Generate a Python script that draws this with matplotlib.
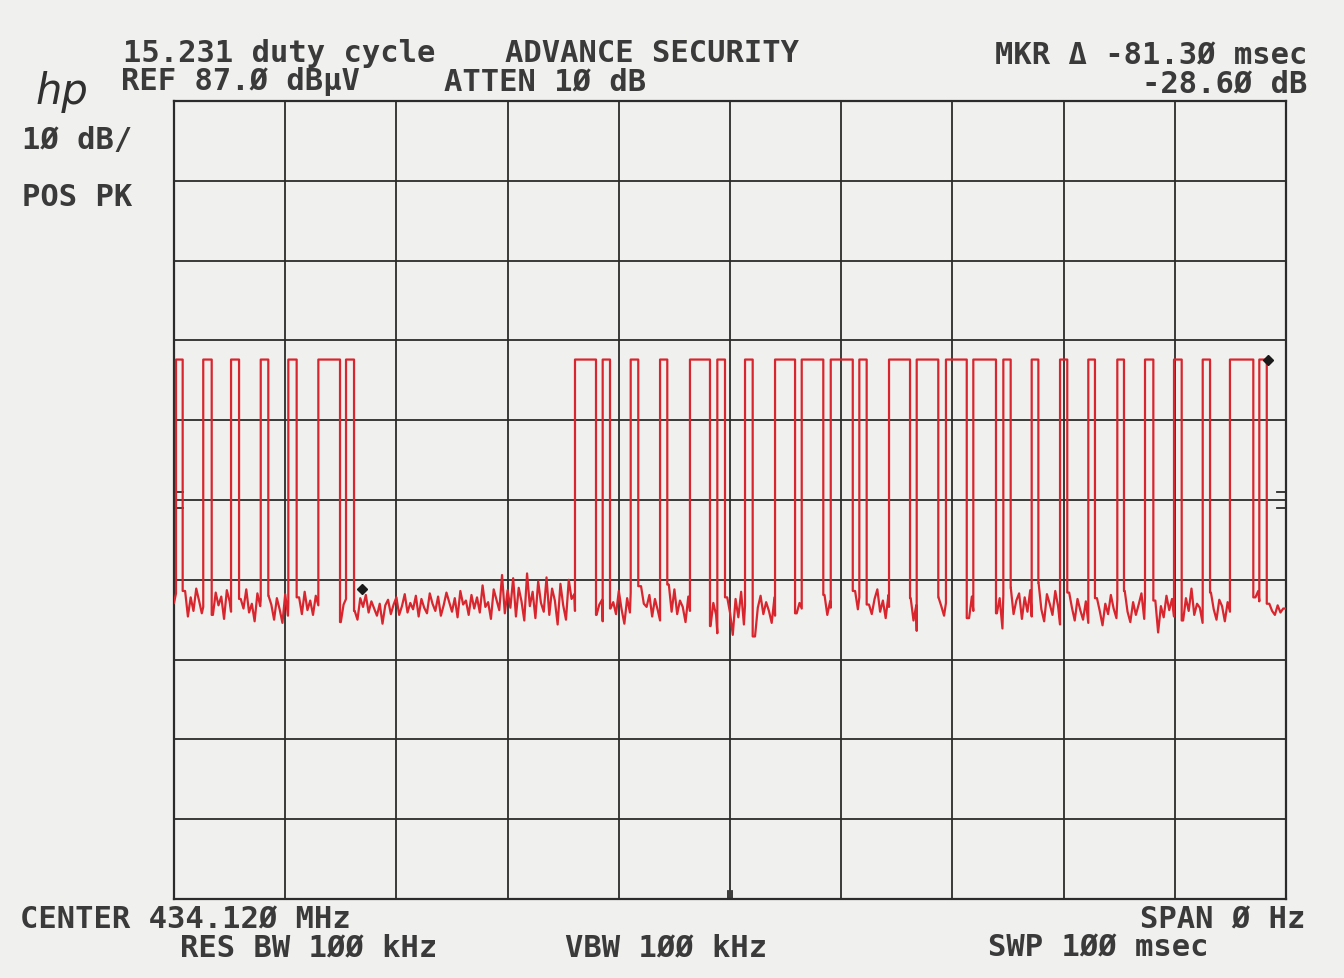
import numpy as np
import matplotlib.pyplot as plt

# --- Trace data (read from the plotter output) ---
# sweep 0..100 ms, REF 87.0 dBuV, 10 dB/div
ref_level = 87.0
high_level = 54.6          # level of the carrier when keyed on (dBuV)

# keyed-on intervals (start, end) in ms
pulses = [
    (0.18, 0.78), (2.63, 3.39), (5.13, 5.85), (7.80, 8.48), (10.28, 11.03),
    (12.98, 14.93), (15.47, 16.19),
    (36.06, 37.95), (38.55, 39.21), (41.07, 41.75), (43.71, 44.36),
    (46.40, 48.20), (48.86, 49.55), (51.35, 52.04), (54.05, 55.85),
    (56.45, 58.39), (59.06, 61.04), (61.63, 62.29), (64.30, 66.19),
    (66.79, 68.73), (69.42, 71.29), (71.88, 73.92), (74.58, 75.24),
    (77.13, 77.73), (79.68, 80.33), (82.22, 82.82), (84.83, 85.43),
    (87.32, 88.07), (89.93, 90.62), (92.51, 93.17), (94.96, 97.06),
    (97.60, 98.27),
]

# noise floor, one value every 0.25 ms (dBuV)
noise_floor = [
    24.1, 25.3, 24.0, 23.2, 25.6, 22.4, 24.8, 23.1, 25.9, 24.4, 22.8, 23.6, 25.2, 24.0, 22.6, 25.4, 23.8, 24.9, 22.1, 25.7,
    24.3, 23.0, 25.1, 22.7, 24.6, 23.4, 25.8, 22.9, 24.0, 21.8, 25.3, 23.7, 24.5, 22.3, 25.0, 23.9, 22.0, 24.7, 23.3, 21.6,
    25.2, 22.5, 24.1, 23.6, 21.9, 24.8, 22.7, 25.5, 23.2, 24.4, 22.6, 25.0, 23.8, 22.2, 24.9, 23.5, 25.4, 22.8, 24.2, 23.0,
    21.7, 23.9, 24.6, 22.4, 25.3, 23.1, 22.0, 24.7, 23.6, 25.1, 22.9, 24.3, 23.4, 22.5, 24.0, 21.5, 23.8, 24.5, 22.7, 23.9,
    24.8, 22.6, 23.7, 25.2, 22.9, 24.1, 23.3, 25.0, 22.4, 24.6, 23.5, 22.8, 25.3, 24.0, 23.1, 24.9, 22.5, 23.8, 25.4, 24.2,
    23.0, 24.7, 22.3, 25.6, 23.9, 24.4, 22.6, 25.1, 23.4, 24.8, 22.9, 26.3, 23.6, 24.2, 22.1, 25.8, 24.5, 23.2, 27.6, 22.8,
    25.7, 23.5, 27.2, 22.4, 26.0, 24.3, 21.9, 27.8, 23.7, 25.5, 22.2, 26.8, 24.1, 23.0, 27.3, 22.6, 25.9, 24.4, 21.4, 26.5,
    23.8, 22.0, 27.0, 24.6, 25.2, 23.1, 26.1, 24.0, 23.5, 22.4, 24.9, 25.7, 22.6, 23.9, 24.5, 21.8, 25.0, 23.4, 24.2, 22.7,
    25.6, 23.3, 21.5, 24.7, 22.9, 25.4, 23.8, 22.1, 26.2, 24.0, 23.6, 25.1, 22.4, 24.6, 23.2, 21.9, 25.3, 24.1, 26.4, 23.0,
    25.8, 22.7, 24.4, 23.6, 21.7, 24.9, 23.1, 22.5, 25.2, 23.8, 24.3, 22.0, 23.5, 21.2, 24.1, 22.6, 20.3, 19.8, 23.7, 24.8,
    22.9, 20.1, 24.6, 22.3, 25.5, 21.4, 23.8, 24.7, 22.2, 19.9, 23.5, 25.0, 22.7, 24.2, 23.1, 21.6, 24.8, 22.5, 23.9, 24.4,
    23.2, 22.0, 24.5, 23.7, 22.8, 24.1, 23.4, 22.3, 24.9, 23.6, 22.4, 24.7, 26.2, 23.0, 25.1, 22.6, 24.3, 23.5, 22.9, 24.6,
    23.8, 22.5, 25.0, 24.2, 27.4, 25.6, 23.3, 24.8, 22.1, 25.3, 23.9, 22.7, 24.6, 25.8, 23.0, 24.4, 22.2, 25.1, 23.6, 24.0,
    22.8, 24.5, 23.4, 25.2, 22.6, 24.7, 21.9, 23.8, 20.6, 24.3, 22.4, 25.0, 23.3, 26.1, 22.0, 24.8, 23.7, 22.5, 24.1, 23.2,
    25.4, 22.9, 24.6, 21.5, 25.9, 23.6, 22.2, 24.9, 23.1, 26.3, 22.5, 24.2, 23.8, 21.7, 25.5, 23.4, 22.8, 24.7, 20.9, 25.1,
    23.5, 26.0, 22.7, 24.4, 25.3, 22.1, 24.8, 23.0, 25.7, 22.4, 24.1, 26.6, 23.3, 21.8, 25.2, 24.0, 22.6, 25.6, 23.7, 21.4,
    24.9, 22.8, 25.4, 23.5, 21.9, 24.6, 23.2, 22.0, 24.3, 21.6, 23.8, 22.5, 24.7, 23.1, 21.3, 24.0, 22.7, 25.1, 23.4, 22.2,
    24.5, 22.9, 25.6, 23.0, 21.7, 24.2, 22.6, 23.9, 25.3, 22.1, 24.8, 23.6, 21.0, 24.4, 20.4, 23.7, 22.3, 25.0, 23.2, 24.6,
    22.4, 25.2, 23.8, 21.9, 24.7, 23.1, 25.9, 22.6, 24.0, 23.5, 21.6, 24.9, 22.8, 25.4, 23.3, 22.0, 24.5, 23.7, 21.8, 24.2,
    23.0, 22.3, 24.6, 21.7, 23.9, 22.5, 24.1, 23.2, 22.7, 24.8, 25.6, 24.3, 23.5, 22.4, 24.0, 23.1, 22.6, 23.8, 22.9, 23.4,
]
noise_step = 0.25

# markers: reference (delta) and active
marker_ref = (16.9, 25.9)
marker_act = (98.35, 54.5)

# --- build the stepped trace ---
t_noise = np.arange(len(noise_floor)) * noise_step
xs, ys = [], []
i = 0
for a, b in pulses:
    while i < len(t_noise) and t_noise[i] < a:
        xs.append(t_noise[i]); ys.append(noise_floor[i]); i += 1
    lo_a = noise_floor[min(i, len(noise_floor) - 1)]
    xs += [a, a, b]
    ys += [lo_a, high_level, high_level]
    while i < len(t_noise) and t_noise[i] <= b:
        i += 1
    xs.append(b); ys.append(noise_floor[min(i, len(noise_floor) - 1)])
while i < len(t_noise):
    xs.append(t_noise[i]); ys.append(noise_floor[i]); i += 1
xs.append(100.0); ys.append(noise_floor[-1])

# --- figure ---
W, H = 1344, 979
paper = '#f0f0ee'
ink = '#2b2b2b'
fig = plt.figure(figsize=(W / 100, H / 100), dpi=100, facecolor=paper)
ax = fig.add_axes([174 / W, 1 - 900 / H, (1286 - 174) / W, (900 - 102) / H])
ax.set_facecolor(paper)
ax.set_xlim(0, 100)
ax.set_ylim(ref_level - 100, ref_level)
ax.set_xticks([])
ax.set_yticks([])
for s in ax.spines.values():
    s.set_color(ink)
    s.set_linewidth(1.6)

# graticule
for k in range(1, 10):
    ax.axvline(k * 10, color=ink, lw=1.3, zorder=1)
    ax.axhline(ref_level - k * 10, color=ink, lw=1.3, zorder=1)

# display line ticks on both sides and centre tick at bottom
for yv in (38.0, 36.0):
    ax.plot([0, 0.8], [yv, yv], color=ink, lw=1.3, zorder=2)
    ax.plot([99.2, 100], [yv, yv], color=ink, lw=1.3, zorder=2)
for xv in (49.8, 50.2):
    ax.plot([xv, xv], [ref_level - 100, ref_level - 99], color=ink, lw=1.3, zorder=2)

# trace
ax.plot(xs, ys, color='#d9262e', lw=1.6, zorder=3)

# markers
ax.plot(*marker_ref, marker='D', ms=5, color='#1a1a1a', zorder=4)
ax.plot(*marker_act, marker='D', ms=5, color='#1a1a1a', zorder=4)

# annotation texts (plotter style)
mono = dict(family='DejaVu Sans Mono', fontsize=22, fontweight='bold',
            color='#3a3a3a', va='center')


def ftxt(x, y, s, ha='left', **kw):
    opts = dict(mono)
    opts.update(kw)
    fig.text(x / W, 1 - y / H, s, ha=ha, **opts)


ftxt(123, 54, '15.231 duty cycle')
ftxt(505, 54, 'ADVANCE SECURITY')
ftxt(1307, 56, 'MKR \u0394 -81.3\u00d8 msec', ha='right')
ftxt(121, 82, 'REF 87.\u00d8 dB\u00b5V')
ftxt(444, 82, 'ATTEN 1\u00d8 dB')
ftxt(1307, 84, '-28.6\u00d8 dB', ha='right')
ftxt(22, 140, '1\u00d8 dB/')
ftxt(22, 197, 'POS PK')
ftxt(20, 920, 'CENTER 434.12\u00d8 MHz')
ftxt(1305, 920, 'SPAN \u00d8 Hz', ha='right')
ftxt(180, 948, 'RES BW 1\u00d8\u00d8 kHz')
ftxt(565, 948, 'VBW 1\u00d8\u00d8 kHz')
ftxt(988, 948, 'SWP 1\u00d8\u00d8 msec')

# hp logo
fig.text(36 / W, 1 - 92 / H, 'hp', family='DejaVu Sans', fontstyle='italic',
         fontsize=30, color='#303030', va='center', ha='left')

fig.savefig('out.png', dpi=100, facecolor=paper)
